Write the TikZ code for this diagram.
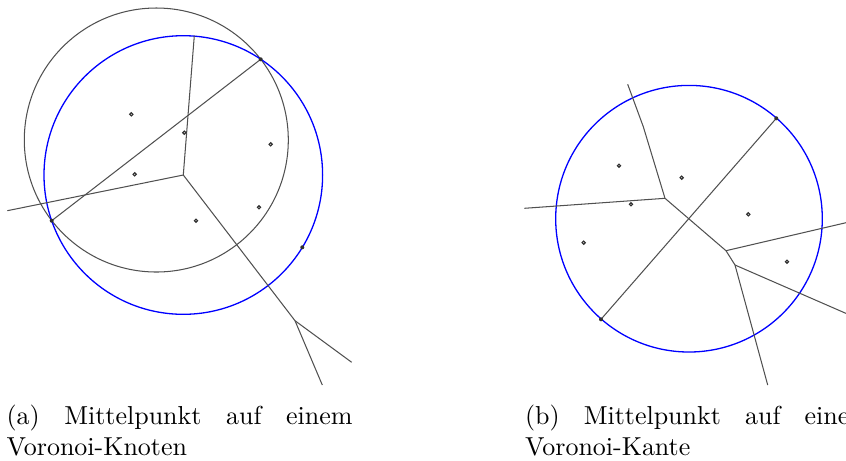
\documentclass[tikz,border=0pt]{standalone}
\usepackage{tikz}
\usetikzlibrary{calc}
\usepackage{xcolor}
\definecolor{edgegray}{HTML}{505050}
\definecolor{sitegray}{HTML}{303030}
\definecolor{circblue}{HTML}{0000FF}
\hyphenpenalty=10000
\exhyphenpenalty=10000

\begin{document}
\begin{tikzpicture}[x=0.385pt,y=-0.385pt,
    vedge/.style={edgegray,line width=0.4pt},
    bigcirc/.style={edgegray,line width=0.4pt},
    emptycirc/.style={circblue,line width=0.5pt},
    site/.style={sitegray,line width=0.45pt},
    hitdot/.style={fill=sitegray},
    subcap/.style={anchor=north west,inner sep=0pt,text width=133.2pt,align=justify,
      font=\fontsize{10}{12}\selectfont}]
  \useasboundingbox (0,0) rectangle (846,460);

  % ===== (a) Mittelpunkt auf einem Voronoi-Knoten =====
  \coordinate (ka) at (183.3,175);
  \coordinate (kb) at (295,320.7);
  \coordinate (ktop) at (194.3,35.7);
  \coordinate (kleft) at (7.3,210.7);
  \coordinate (kbr) at (351.7,362.3);
  \coordinate (kbot) at (322.3,385);
  \coordinate (sa1) at (51.7,220.7);
  \coordinate (sa2) at (260.7,59.3);
  \coordinate (ha) at (302.3,247.3);

  % Kreise
  \draw[bigcirc] (156.3,140) circle (132);
  \draw[emptycirc] (ka) circle (139.3);

  % Voronoi-Kanten
  \draw[vedge] (ka) -- (ktop);
  \draw[vedge] (ka) -- (kleft);
  \draw[vedge] (ka) -- (kb);
  \draw[vedge] (kb) -- (kbr);
  \draw[vedge] (kb) -- (kbot);
  \draw[vedge] (sa1) -- (sa2);

  % Punkte
  \foreach \p in {(131.3,114.3),(184.3,132.7),(270.7,144.3),(134.7,174.3),(259,207.3),(196,220.7)}
    \draw[site] \p circle (1.6);
  \foreach \p in {sa1,sa2,ha}
    \fill[hitdot] (\p) circle (2);

  % ===== (b) Mittelpunkt auf einer Voronoi-Kante =====
  \coordinate (mc) at (689,218.7);
  \coordinate (va) at (665,198.3);
  \coordinate (vb) at (726,250.7);
  \coordinate (vc) at (735,265);
  \coordinate (btop) at (627.7,84.3);
  \coordinate (bbend) at (643.3,126.7);
  \coordinate (bleft) at (524.3,208.3);
  \coordinate (bright) at (852,221.3);
  \coordinate (blow) at (852,316);
  \coordinate (bbot) at (767.7,385);
  \coordinate (sb1) at (601,319.3);
  \coordinate (sb2) at (776.3,118.3);

  \draw[emptycirc] (mc) circle (133.3);

  \draw[vedge] (btop) -- (bbend) -- (va);
  \draw[vedge] (va) -- (bleft);
  \draw[vedge] (va) -- (vb);
  \draw[vedge] (vb) -- (bright);
  \draw[vedge] (vb) -- (vc);
  \draw[vedge] (vc) -- (blow);
  \draw[vedge] (vc) -- (bbot);
  \draw[vedge] (sb1) -- (sb2);

  \foreach \p in {(619,165.7),(681.7,177.7),(631,204.3),(748.3,214.3),(583.7,242.7),(787,261.7)}
    \draw[site] \p circle (1.6);
  \foreach \p in {sb1,sb2}
    \fill[hitdot] (\p) circle (2);

  % --- Unterschriften ---
  \node[subcap] (capa) at (6,404) {(a) Mittelpunkt auf einem \mbox{Voronoi-Knoten}};
  \node[subcap] (capb) at (524.5,404) {(b) Mittelpunkt auf einem \mbox{Voronoi-Kante}};
\end{tikzpicture}
\end{document}
